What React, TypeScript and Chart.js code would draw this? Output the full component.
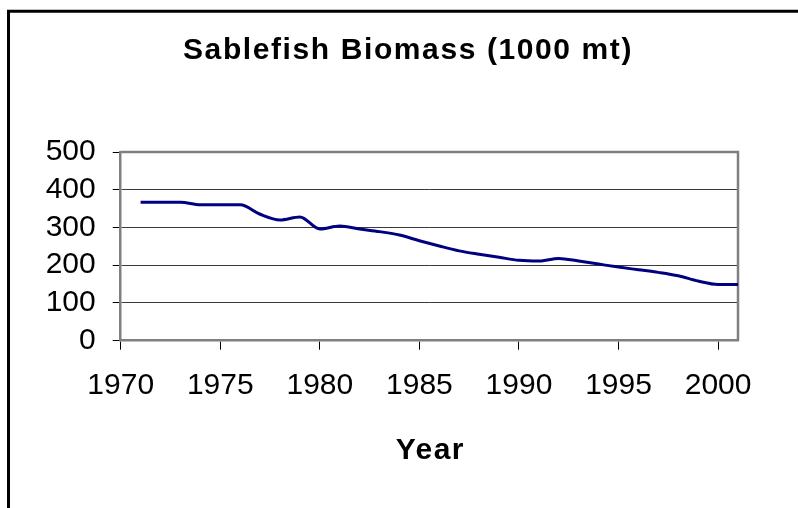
import React, { useEffect, useRef } from 'react';
import { Chart, registerables } from 'chart.js';

Chart.register(...registerables);

// ---- data ----
const years = [
  1971, 1972, 1973, 1974, 1975, 1976, 1977, 1978, 1979, 1980,
  1981, 1982, 1983, 1984, 1985, 1986, 1987, 1988, 1989, 1990,
  1991, 1992, 1993, 1994, 1995, 1996, 1997, 1998, 1999, 2000, 2001,
];
const biomass = [
  367, 367, 367, 360, 360, 360, 335, 320, 328, 296,
  304, 296, 289, 280, 265, 251, 238, 229, 221, 213,
  211, 218, 211, 203, 195, 188, 181, 172, 158, 149, 149,
];
const xTickValues = [1970, 1975, 1980, 1985, 1990, 1995, 2000];
const yTickValues = [0, 100, 200, 300, 400, 500];
const chartTitle = 'Sablefish Biomass (1000 mt)';
const xAxisTitle = 'Year';

const FONT = '"Liberation Sans", Arial, Helvetica, sans-serif';

const decorPlugin = {
  id: 'decor',
  beforeDraw(chart: any) {
    const ctx = chart.ctx as CanvasRenderingContext2D;
    ctx.save();
    ctx.fillStyle = '#ffffff';
    ctx.fillRect(0, 0, chart.width, chart.height);
    // outer frame (left and top visible)
    ctx.strokeStyle = '#000000';
    ctx.lineWidth = 3;
    ctx.beginPath();
    ctx.moveTo(8.5, chart.height + 5);
    ctx.lineTo(8.5, 11.25);
    ctx.lineTo(chart.width + 5, 11.25);
    ctx.stroke();
    ctx.restore();
  },
  beforeDatasetsDraw(chart: any) {
    const ctx = chart.ctx as CanvasRenderingContext2D;
    const { left, top, right, bottom } = chart.chartArea;
    ctx.save();
    ctx.strokeStyle = '#808080';
    ctx.lineWidth = 2.5;
    ctx.beginPath();
    ctx.moveTo(left, top);
    ctx.lineTo(right, top);
    ctx.lineTo(right, bottom);
    ctx.stroke();
    ctx.restore();
  },
  afterDraw(chart: any) {
    const ctx = chart.ctx as CanvasRenderingContext2D;
    const { left, right } = chart.chartArea;
    ctx.save();
    ctx.fillStyle = '#000000';
    ctx.font = `bold 30px ${FONT}`;
    (ctx as any).letterSpacing = '1.6px';
    ctx.textAlign = 'center';
    ctx.textBaseline = 'alphabetic';
    ctx.fillText(chartTitle, 408, 59);
    (ctx as any).letterSpacing = '1.5px';
    ctx.fillText(xAxisTitle, (left + right) / 2 + 1, 459);
    ctx.restore();
  },
};

export default function App() {
  const ref = useRef<HTMLCanvasElement>(null);

  useEffect(() => {
    document.body.style.margin = '0';
    const canvas = ref.current;
    if (!canvas) return;
    const chart = new Chart(canvas, {
      type: 'line',
      data: {
        datasets: [
          {
            label: 'Biomass',
            data: years.map((y, i) => ({ x: y, y: biomass[i] })),
            borderColor: '#000080',
            backgroundColor: '#000080',
            borderWidth: 3,
            pointRadius: 0,
            cubicInterpolationMode: 'monotone',
            fill: false,
          },
        ],
      },
      options: {
        responsive: false,
        animation: false,
        events: [],
        layout: { padding: { top: 152, right: 60, left: 0, bottom: 0 } },
        plugins: {
          legend: { display: false },
          title: { display: false },
          tooltip: { enabled: false },
        },
        scales: {
          x: {
            type: 'linear',
            min: 1970,
            max: 2001,
            afterBuildTicks: (scale: any) => {
              scale.ticks = xTickValues.map((v) => ({ value: v }));
            },
            afterFit: (scale: any) => {
              scale.height = 167.3;
            },
            ticks: {
              color: '#000000',
              font: { family: FONT, size: 30 },
              padding: 18,
              maxRotation: 0,
              autoSkip: false,
              callback: (v: any) => String(v),
            },
            grid: {
              display: true,
              drawOnChartArea: false,
              drawTicks: true,
              tickLength: 9,
              tickColor: '#000000',
              tickWidth: 1,
            },
            border: { display: true, color: '#808080', width: 2.5 },
          },
          y: {
            type: 'linear',
            min: 0,
            max: 500,
            afterBuildTicks: (scale: any) => {
              scale.ticks = yTickValues.map((v) => ({ value: v }));
            },
            afterFit: (scale: any) => {
              scale.width = 120.7;
            },
            ticks: {
              color: '#000000',
              font: { family: FONT, size: 30 },
              padding: 17,
              autoSkip: false,
              callback: (v: any) => String(v),
            },
            grid: {
              display: true,
              color: '#3a3a3a',
              lineWidth: 1,
              drawTicks: true,
              tickLength: 8,
              tickColor: '#000000',
              tickWidth: 1,
            },
            border: { display: true, color: '#808080', width: 2.5 },
          },
        },
      },
      plugins: [decorPlugin],
    });
    return () => chart.destroy();
  }, []);

  return (
    <div style={{ width: 798, height: 508, position: 'relative' }}>
      <canvas ref={ref} width={798} height={508} style={{ display: 'block', width: 798, height: 508 }} />
    </div>
  );
}
